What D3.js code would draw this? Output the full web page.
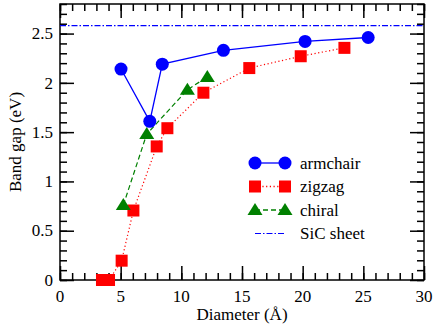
<!DOCTYPE html>
<html><head><meta charset="utf-8"><script src="https://cdn.jsdelivr.net/npm/d3@7"></script></head>
<body style="margin:0">
<script>
// band gap vs diameter data
var armchairD   = [5.03, 7.4, 8.43, 13.47, 20.2, 25.4];
var armchairGap = [2.14, 1.61, 2.19, 2.33, 2.42, 2.46];

var zigzagD   = [3.46, 4.04, 5.08, 6.05, 7.97, 8.85, 11.82, 15.6, 19.84, 23.44];
var zigzagGap = [0, 0, 0.196, 0.705, 1.355, 1.54, 1.9, 2.15, 2.27, 2.355];

var chiralD   = [5.22, 7.15, 10.5, 12.14];
var chiralGap = [0.76, 1.48, 1.93, 2.06];

var sicSheet = 2.58;

var xTicks = [0, 5, 10, 15, 20, 25, 30];
var yTicks = [0, 0.5, 1, 1.5, 2, 2.5];

var FONT = "Liberation Serif";

var margin = {top: 4, right: 12, bottom: 48, left: 60},
    width = 436 - margin.left - margin.right,
    height = 328 - margin.top - margin.bottom;

var root = d3.select("body").append("svg")
    .attr("width", 436)
    .attr("height", 328);
var svg = root.append("g")
    .attr("transform", "translate(" + margin.left + "," + margin.top + ")");

var x = d3.scaleLinear().domain([0, 30]).range([0, width]);
var y = d3.scaleLinear().domain([0, 2.8]).range([height, 0]);

// tick marks on all four sides, pointing inward (labels drawn separately)
function tickMarks(axisFn, scale, values, size, transform) {
  var g = svg.append("g").attr("transform", transform);
  g.call(axisFn(scale).tickValues(values).tickSize(-size).tickFormat(""));
  g.select(".domain").remove();
  g.selectAll("text").remove();
  g.selectAll("line").attr("stroke", "#000").attr("stroke-width", 1.5);
}

var xMinor = d3.range(0, 31, 1);
var yMinor = d3.range(0, 29).map(function(i) { return i / 10; });

tickMarks(d3.axisBottom, x, xMinor, 7, "translate(0," + height + ")");
tickMarks(d3.axisBottom, x, xTicks, 14, "translate(0," + height + ")");
tickMarks(d3.axisTop, x, xMinor, 7, "translate(0,0)");
tickMarks(d3.axisTop, x, xTicks, 14, "translate(0,0)");
tickMarks(d3.axisLeft, y, yMinor, 7, "translate(0,0)");
tickMarks(d3.axisLeft, y, yTicks, 14, "translate(0,0)");
tickMarks(d3.axisRight, y, yMinor, 7, "translate(" + width + ",0)");
tickMarks(d3.axisRight, y, yTicks, 14, "translate(" + width + ",0)");

// tick labels
xTicks.forEach(function(t) {
  svg.append("text")
    .attr("x", x(t)).attr("y", height + 22)
    .attr("text-anchor", "middle")
    .style("font-family", FONT).style("font-size", "17px")
    .text(t);
});
yTicks.forEach(function(t) {
  svg.append("text")
    .attr("x", -7).attr("y", y(t)).attr("dy", "0.34em")
    .attr("text-anchor", "end")
    .style("font-family", FONT).style("font-size", "17px")
    .text(t);
});

// frame
svg.append("rect")
    .attr("width", width).attr("height", height)
    .attr("fill", "none").attr("stroke", "#000").attr("stroke-width", 1.5);

// SiC sheet line
svg.append("line")
    .attr("x1", 0).attr("x2", width)
    .attr("y1", y(sicSheet)).attr("y2", y(sicSheet))
    .attr("stroke", "#0000ff").attr("stroke-width", 1.2)
    .attr("stroke-dasharray", "6,2,1.5,2");

function pts(ds, gs) {
  return ds.map(function(d, i) { return [d, gs[i]]; });
}
var line = d3.line().x(function(d) { return x(d[0]); }).y(function(d) { return y(d[1]); });

var series = [
  {name: "armchair", data: pts(armchairD, armchairGap), color: "#0000ff", dash: null, shape: "circle"},
  {name: "zigzag", data: pts(zigzagD, zigzagGap), color: "#ff0000", dash: "1.2,2.5", shape: "square"},
  {name: "chiral", data: pts(chiralD, chiralGap), color: "#008000", dash: "5,3", shape: "triangle"}
];

function marker(g, shape, color, cx, cy) {
  if (shape == "circle") {
    g.append("circle").attr("cx", cx).attr("cy", cy).attr("r", 6.5).attr("fill", color);
  } else if (shape == "square") {
    g.append("rect").attr("x", cx - 6).attr("y", cy - 6).attr("width", 12).attr("height", 12).attr("fill", color);
  } else {
    g.append("path")
      .attr("d", "M" + cx + "," + (cy - 7) + "L" + (cx + 7.5) + "," + (cy + 5) + "L" + (cx - 7.5) + "," + (cy + 5) + "Z")
      .attr("fill", color);
  }
}

// draw zigzag, chiral, then armchair on top
[series[1], series[2], series[0]].forEach(function(s) {
  svg.append("path")
    .datum(s.data)
    .attr("d", line)
    .attr("fill", "none")
    .attr("stroke", s.color)
    .attr("stroke-width", s.shape == "circle" ? 1.3 : 1.2)
    .attr("stroke-dasharray", s.dash);
  var g = svg.append("g");
  s.data.forEach(function(d) { marker(g, s.shape, s.color, x(d[0]), y(d[1])); });
});

// legend
var legend = svg.append("g").attr("transform", "translate(" + (255 - margin.left) + "," + (163 - margin.top) + ")");
series.concat([{name: "SiC sheet", color: "#0000ff", dash: "6,2,1.5,2", shape: null}]).forEach(function(s, i) {
  var ly = i * 23.5;
  legend.append("line")
    .attr("x1", 0).attr("x2", 30).attr("y1", ly).attr("y2", ly)
    .attr("stroke", s.color)
    .attr("stroke-width", s.shape ? 1.3 : 1)
    .attr("stroke-dasharray", s.dash);
  if (s.shape) {
    marker(legend, s.shape, s.color, 0, ly);
    marker(legend, s.shape, s.color, 30, ly);
  }
  legend.append("text")
    .attr("x", 45).attr("y", ly).attr("dy", "0.34em")
    .style("font-family", FONT).style("font-size", "17px")
    .text(s.name);
});

// axis titles
svg.append("text")
    .attr("x", width / 2).attr("y", height + 40)
    .attr("text-anchor", "middle")
    .style("font-family", FONT).style("font-size", "17px")
    .text("Diameter (Å)");

svg.append("text")
    .attr("transform", "translate(" + (21 - margin.left) + "," + (height / 2) + ") rotate(-90)")
    .attr("text-anchor", "middle")
    .style("font-family", FONT).style("font-size", "17px")
    .text("Band gap (eV)");
</script>
</body>
</html>
